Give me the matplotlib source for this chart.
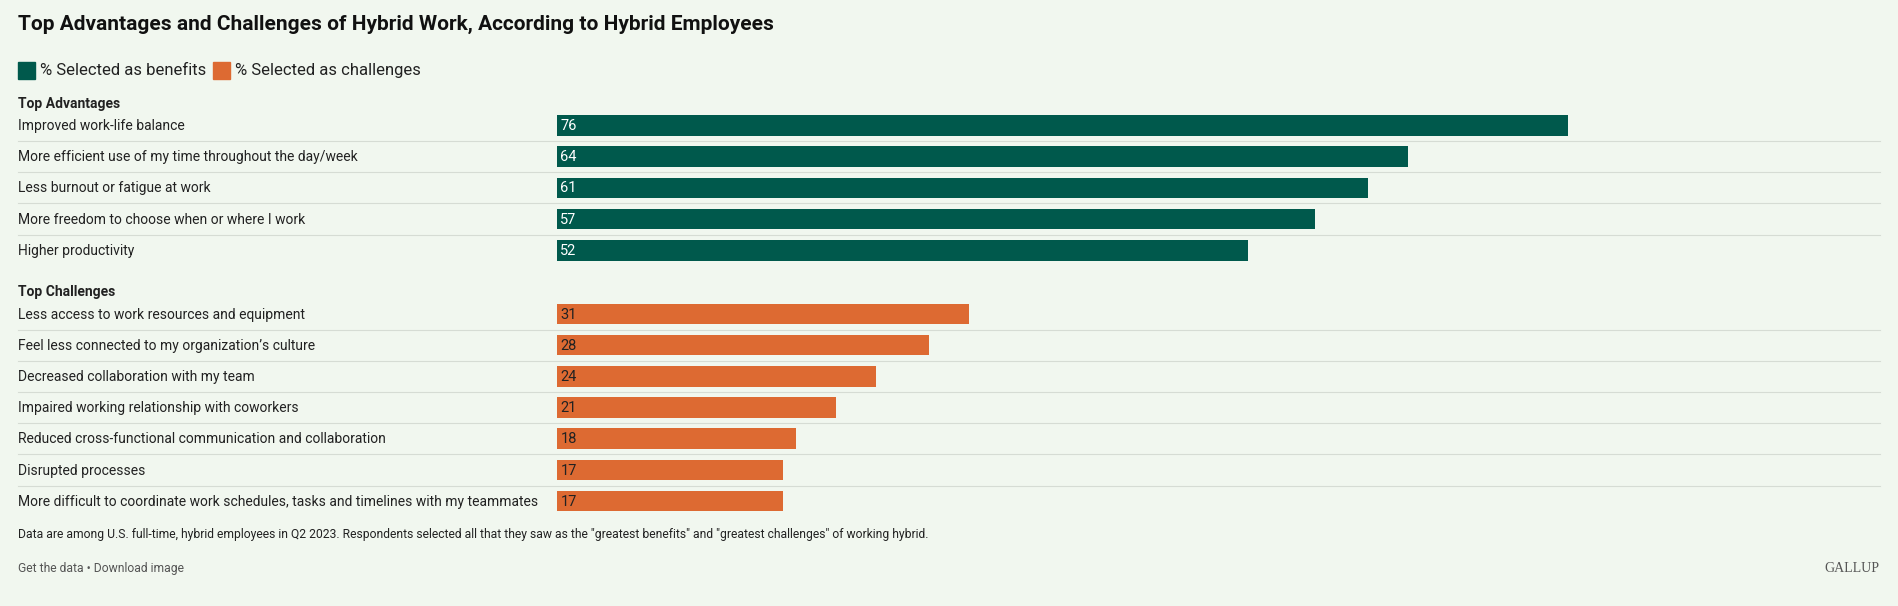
import matplotlib
matplotlib.use('Agg')
from matplotlib import pyplot as plt

adv_labels = ['Improved work-life balance',
              'More efficient use of my time throughout the day/week',
              'Less burnout or fatigue at work',
              'More freedom to choose when or where I work',
              'Higher productivity']
adv_values = [76, 64, 61, 57, 52]

chal_labels = ['Less access to work resources and equipment',
               'Feel less connected to my organization\u2019s culture',
               'Decreased collaboration with my team',
               'Impaired working relationship with coworkers',
               'Reduced cross-functional communication and collaboration',
               'Disrupted processes',
               'More difficult to coordinate work schedules, tasks and timelines with my teammates']
chal_values = [31, 28, 24, 21, 18, 17, 17]

GREEN = '#00594c'
ORANGE = '#dd6a32'
BG = '#f1f7ef'
TXT = '#222222'
plt.rcParams['font.family'] = ['Roboto', 'DejaVu Sans']

# work in the reference's display pixels (1568 x 500)
W, H = 1568, 500
fig = plt.figure(figsize=(18.98, 6.06), dpi=100, facecolor=BG)
ax = fig.add_axes([0, 0, 1, 1])
ax.set_xlim(0, W)
ax.set_ylim(H, 0)
ax.axis('off')

x0 = 460
scale = (1295 - x0) / 76.0
step = 25.75

ax.text(15, 20, 'Top Advantages and Challenges of Hybrid Work, According to Hybrid Employees',
        fontsize=15, fontweight='bold', color='#111111', va='center')

ax.add_patch(plt.Rectangle((15, 51), 14, 14, color=GREEN))
ax.text(33, 58, '% Selected as benefits', fontsize=12, color=TXT, va='center')
ax.add_patch(plt.Rectangle((176, 51), 14, 14, color=ORANGE))
ax.text(194, 58, '% Selected as challenges', fontsize=12, color=TXT, va='center')


def section(title, ty, labels, values, color, first):
    ax.text(15, ty, title, fontsize=10, fontweight='bold', color=TXT, va='center')
    for i, (lab, v) in enumerate(zip(labels, values)):
        y = first + i * step
        ax.text(15, y + 0.5, lab, fontsize=10, color=TXT, va='center')
        ax.barh(y, v * scale, left=x0, height=17, color=color)
        ax.text(x0 + 3, y + 0.5, str(v), fontsize=10.5, va='center',
                color='white' if color == GREEN else TXT)
        if i < len(labels) - 1:
            ax.plot([15, 1553], [y + step / 2, y + step / 2], color='#d6dcd4', lw=0.8)


section('Top Advantages', 86, adv_labels, adv_values, GREEN, 103.5)
section('Top Challenges', 241, chal_labels, chal_values, ORANGE, 259)

ax.text(15, 441, 'Data are among U.S. full-time, hybrid employees in Q2 2023. Respondents selected all that they saw as the '
        '"greatest benefits" and "greatest challenges" of working hybrid.', fontsize=8.7, color=TXT, va='center')
ax.text(15, 469, 'Get the data \u2022 Download image', fontsize=8.7, color='#555555', va='center')
ax.text(1553, 469, 'GALLUP', fontsize=10, color='#555555', va='center', ha='right',
        family=['Liberation Serif', 'DejaVu Serif'])

fig.savefig('out.png', facecolor=BG)
